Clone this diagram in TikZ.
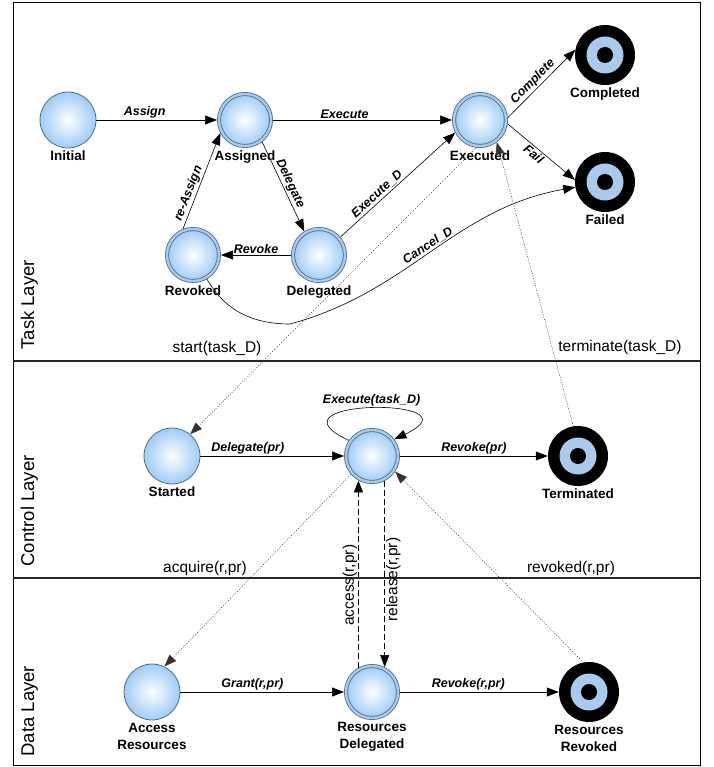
\documentclass[tikz,border=0pt]{standalone}
\usepackage{fontspec}
\setmainfont{Liberation Sans}
\usepackage{tikz}
\usetikzlibrary{arrows.meta}

\definecolor{stateblue}{HTML}{9DCBF5}
\definecolor{ringblue}{HTML}{A9CAEC}
\definecolor{borderblue}{HTML}{4F6A88}

\begin{document}
\begin{tikzpicture}[x=1pt, y=1pt,
  plainstate/.style={circle, draw=borderblue, line width=0.8pt, inner color=white,
    outer color=stateblue, minimum size=56pt, inner sep=0pt},
  dblstate/.style={plainstate, minimum size=52pt, double=ringblue, double distance=2.4pt,
    outer sep=2pt},
  endstate/.style={circle, fill=black, minimum size=60pt, inner sep=0pt,
    path picture={
      \fill[ringblue] (path picture bounding box.center) circle (18.5pt);
      \fill[black] (path picture bounding box.center) circle (8pt);}},
  stname/.style={font=\bfseries\fontsize{13.5}{17}\selectfont, align=center, inner sep=1pt},
  every label/.style={stname},
  label distance=1.5pt,
  trans/.style={-{Triangle[length=12pt,width=9pt]}, line width=0.6pt},
  dotarrow/.style={trans, line width=0.5pt, dash pattern=on 1pt off 1.5pt, black!80},
  dasharrow/.style={trans, dash pattern=on 6pt off 3pt},
  tlabel/.style={font=\bfseries\itshape\fontsize{12.5}{14}\selectfont, inner sep=1.5pt},
  note/.style={font=\fontsize{15.5}{18}\selectfont, inner sep=1pt},
  layer/.style={font=\fontsize{18.5}{20}\selectfont, rotate=90, anchor=base west}]

  \useasboundingbox (0,0) rectangle (713,-767);

  % Capas
  \draw[line width=0.8pt] (13,-2) rectangle (700,-765);
  \draw[line width=1.6pt, black!85] (13,-361) -- (700,-361);
  \draw[line width=1.6pt, black!85] (13,-578) -- (700,-578);
  \node[layer] (taskl) at (34,-353) {Task Layer};
  \node[layer] (ctrll) at (34,-570) {Control Layer};
  \node[layer] (datal) at (34,-760) {Data Layer};

  % Nodos
  \node[plainstate, label={[name=initial-t]below:Initial}] (initial) at (68,-120) {};
  \node[dblstate, label={[name=assigned-t]below:Assigned}] (assigned) at (245,-120) {};
  \node[dblstate, label={[name=executed-t]below:Executed}] (executed) at (480,-120) {};
  \node[dblstate, label={[name=revoked-t]below:Revoked}] (revoked) at (193,-255) {};
  \node[dblstate, label={[name=delegated-t]below:Delegated}] (delegated) at (319,-255) {};
  \node[endstate, label={[name=completed-t]below:Completed}] (completed) at (605,-55) {};
  \node[endstate, label={[name=failed-t]below:Failed}] (failed) at (605,-182) {};

  \node[plainstate, label={[name=started-t]below:Started}] (started) at (172,-456) {};
  \node[dblstate] (delegctrl) at (372,-456) {};
  \node[endstate, label={[name=terminated-t]below:Terminated}] (terminated) at (578,-456) {};

  \node[plainstate, label={[name=access-t]below:Access\\Resources}] (access) at (152,-692) {};
  \node[dblstate, label={[name=resdeleg-t]below:Resources\\Delegated}] (resdeleg) at (372,-692) {};
  \node[endstate, label={[name=resrevoked-t]below:Resources\\Revoked}] (resrevoked) at (589,-692) {};

  \coordinate (canceldip) at (290,-324);

  % Transiciones de tarea
  \draw[trans] (initial) -- node[tlabel, above, pos=0.4] (assignl) {Assign} (assigned);
  \draw[trans] (assigned) -- node[tlabel, above, pos=0.4] (executel) {Execute} (executed);
  \draw[trans] (assigned.-52) -- node[tlabel, above, sloped] (delegatel) {Delegate} (delegated.122);
  \draw[trans] (revoked.111) -- node[tlabel, above, sloped, pos=0.34] (reassignl) {re-Assign} (assigned.-152);
  \draw[trans] (delegated) -- node[tlabel, above] (revokel) {Revoke} (revoked);
  \draw[trans] (delegated.40) -- node[tlabel, above, sloped, pos=0.36] (executedl) {Execute\_D} (executed.-153);
  \draw[trans] (executed.5) -- node[tlabel, above, sloped, pos=0.45] (completel) {Complete} (completed.170);
  \draw[trans] (executed.-8) -- node[tlabel, below, sloped, pos=0.45] (faill) {Fail} (failed.176);
  \draw[trans] (revoked.-60) to[out=-60, in=180] (canceldip)
    to[out=15, in=190] node[tlabel, above, sloped, pos=0.5] (cancell) {Cancel\_D} (failed);

  % Transiciones de control
  \draw[trans] (started) -- node[tlabel, above, pos=0.33] (delegprl) {Delegate(pr)} (delegctrl);
  \draw[trans] (delegctrl) -- node[tlabel, above] (revokeprl) {Revoke(pr)} (terminated);
  \draw[trans] (delegctrl.146) to[out=155, in=25, looseness=5.6]
    node[tlabel, above] (loopl) {Execute(task\_D)} (delegctrl.37);

  % Transiciones de datos
  \draw[trans] (access) -- node[tlabel, above, pos=0.44] (grantl) {Grant(r,pr)} (resdeleg);
  \draw[trans] (resdeleg) -- node[tlabel, above, pos=0.43] (revokerl) {Revoke(r,pr)} (resrevoked);

  % Enlaces entre capas
  \draw[dotarrow] (executed.-98) -- (started.50);
  \draw[dotarrow] (terminated.99) -- (executed.-53);
  \draw[dotarrow] (delegctrl.-139) -- (access.64);
  \draw[dotarrow] (resrevoked.101) -- (delegctrl.-34);
  \draw[dasharrow] (resdeleg.119) --
    node[note, rotate=90, anchor=south, pos=0.44] (accessn) {access(r,pr)} (delegctrl.-119);
  \draw[dasharrow] (delegctrl.-63) --
    node[note, rotate=90, anchor=north, pos=0.53] (releasen) {release(r,pr)} (resdeleg.63);

  \node[note] (startn) at (217,-348) {start(task\_D)};
  \node[note] (termn) at (620,-347) {terminate(task\_D)};
  \node[note] (acqn) at (205,-568) {acquire(r,pr)};
  \node[note] (revn) at (571,-568) {revoked(r,pr)};
\end{tikzpicture}
\end{document}
